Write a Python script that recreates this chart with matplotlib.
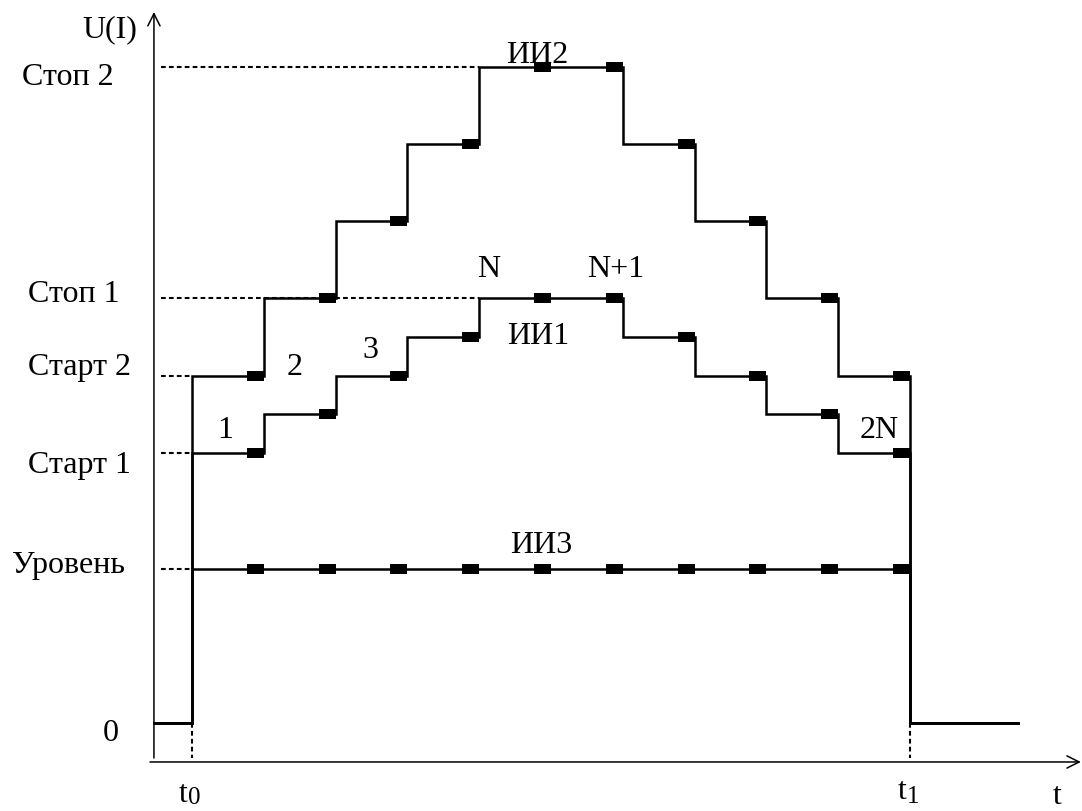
import matplotlib
matplotlib.use("Agg")
import matplotlib.pyplot as plt
import numpy as np

plt.rcParams['font.family'] = ['Liberation Serif', 'DejaVu Serif']
plt.rcParams['lines.scale_dashes'] = False

# ---- data ----
pulse_times = [0, 1, 2, 3, 4, 5, 6, 7, 8, 9, 10]      # t0 = 0 ... t1 = 10
levels_ii1 = [7, 8, 9, 10, 11, 11, 10, 9, 8, 7]
levels_ii2 = [9, 11, 13, 15, 17, 17, 15, 13, 11, 9]
levels_ii3 = [4, 4, 4, 4, 4, 4, 4, 4, 4, 4]
ref_names = ['0', 'Уровень', 'Старт 1', 'Старт 2', 'Стоп 1', 'Стоп 2']
ref_values = [0, 4, 7, 9, 11, 17]
t_end_tail = 11.5
axis_x = -0.53
axis_y = -1.01

fig = plt.figure(figsize=(10.82, 8.11), dpi=100)
ax = fig.add_axes([0, 0, 1, 1])
ax.set_xlim(-2.674, 12.396)
ax.set_ylim(-2.28, 18.73)
ax.axis('off')

# axes with arrows
ax.annotate('', xy=(axis_x, 18.42), xytext=(axis_x, -0.907),
            arrowprops=dict(arrowstyle='->', lw=1.1, color='black',
                            mutation_scale=22, shrinkA=0, shrinkB=0))
ax.annotate('', xy=(12.38, axis_y), xytext=(-0.585, axis_y),
            arrowprops=dict(arrowstyle='->', lw=1.1, color='black',
                            mutation_scale=22, shrinkA=0, shrinkB=0))

dash = dict(color='black', lw=1.5, dashes=(3.4, 2.3))
# dashed reference levels
for name, v in zip(ref_names, ref_values):
    if v == 0:
        continue
    x_end = pulse_times[4] if v >= levels_ii1[4] else pulse_times[0]
    ax.plot([-0.43, x_end], [v, v], **dash)
# dashed t0, t1 drops
for t in (pulse_times[0], pulse_times[-1]):
    ax.plot([t, t], [0, -0.9], **dash)

# signals
mark = [(-1, -0.265), (0, -0.265), (0, 0.265), (-1, 0.265), (-1, -0.265)]
for lv in (levels_ii3, levels_ii1, levels_ii2):
    xs = [axis_x] + pulse_times + [t_end_tail]
    ys = [0] + lv + [0, 0]
    ax.step(xs, ys, where='post', color='black', lw=1.8, solid_joinstyle='miter')
    ax.plot(pulse_times[1:], lv, ls='none', marker=mark, markersize=24.5,
            markerfacecolor='black', markeredgewidth=0)

fs = 23
def txt(x, y, s, ha='left', size=fs):
    ax.text(x, y, s, ha=ha, va='baseline', fontsize=size, color='black')

txt(-0.766, 17.77, 'U(I)', ha='right')
txt(-2.368, 16.53, 'Стоп 2')
txt(-2.284, 10.91, 'Стоп 1')
txt(-2.284, 9.02, 'Старт 2')
txt(-2.284, 6.48, 'Старт 1')
txt(-2.507, 3.89, 'Уровень')
txt(-1.24, -0.47, '0')
txt(-0.19, -2.05, 't')
txt(-0.05, -2.09, '0', size=18)
txt(9.83, -1.98, 't')
txt(9.95, -2.08, '1', size=18)
txt(11.99, -2.10, 't')
txt(4.37, 17.10, 'ИИ2')
txt(3.97, 11.55, 'N')
txt(5.50, 11.55, 'N+1')
txt(4.39, 9.82, 'ИИ1')
txt(4.43, 4.40, 'ИИ3')
txt(0.35, 7.38, '1')
txt(1.32, 9.02, '2')
txt(2.37, 9.46, '3')
txt(9.30, 7.38, '2N')

fig.savefig('out.png', dpi=100, facecolor='white')
